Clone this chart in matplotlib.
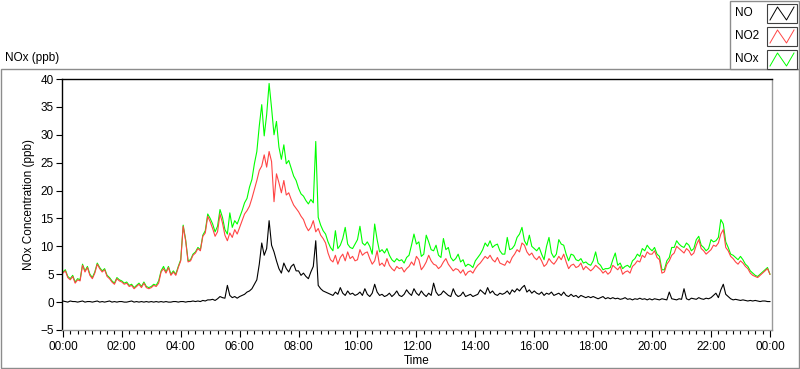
import matplotlib
matplotlib.use("Agg")
import matplotlib.pyplot as plt
from matplotlib.patches import Rectangle
from matplotlib.ticker import FuncFormatter, MultipleLocator
import numpy as np

# 5-minute readings, one row per hour (00:00 ... 23:55) plus the 24:00 value
no2_ppb = [
    5.2, 5.6, 4.4, 4.0, 4.6, 3.4, 4.0, 3.8, 6.6, 5.4, 6.2, 4.8,
    4.2, 5.2, 6.8, 6.0, 5.4, 5.8, 4.6, 4.2, 3.6, 3.2, 4.2, 3.8,
    3.6, 3.2, 3.4, 2.8, 3.0, 2.4, 2.8, 3.2, 2.6, 3.4, 2.6, 2.4,
    2.6, 3.0, 2.8, 3.4, 5.4, 6.0, 5.2, 6.2, 4.8, 5.4, 4.8, 6.2,
    7.4, 13.6, 11.0, 7.2, 7.4, 8.4, 8.8, 9.6, 9.2, 11.8, 12.4, 15.4,
    14.4, 13.2, 11.8, 12.6, 15.8, 14.2, 12.0, 11.0, 12.4, 11.6, 13.0, 12.2,
    13.4, 14.6, 15.8, 16.4, 17.2, 18.6, 20.2, 21.8, 23.6, 24.4, 26.4, 24.2,
    27.0, 25.2, 18.0, 23.0, 21.4, 19.6, 21.8, 19.2, 19.6, 18.4, 17.4, 16.8,
    16.2, 15.4, 14.8, 13.6, 12.8, 13.4, 14.6, 12.6, 13.2, 12.0, 11.4, 10.6,
    8.8, 7.6, 7.2, 8.4, 6.8, 8.0, 8.6, 7.4, 9.0, 7.8, 8.2, 7.4,
    7.6, 9.4, 8.4, 8.8, 9.0, 7.8, 6.8, 7.4, 9.2, 6.6, 7.0, 6.4,
    7.8, 6.6, 6.0, 5.6, 6.4, 6.0, 6.2, 5.4, 6.0, 6.4, 7.2, 6.6,
    8.2, 7.6, 5.8, 6.4, 7.2, 8.4, 7.4, 6.8, 6.6, 6.0, 6.4, 7.2,
    7.8, 6.8, 6.2, 5.6, 6.0, 5.8, 5.2, 5.8, 4.8, 5.4, 5.6, 5.2,
    6.0, 6.6, 7.0, 7.6, 8.2, 7.8, 8.4, 7.6, 7.2, 8.0, 7.0, 6.8,
    6.6, 7.4, 7.0, 8.0, 8.6, 9.4, 9.0, 10.6, 10.2, 9.0, 8.4, 8.8,
    8.0, 7.6, 8.2, 7.4, 6.4, 6.8, 7.8, 7.2, 6.8, 7.4, 8.2, 7.6,
    8.6, 7.2, 6.0, 6.6, 6.8, 6.2, 6.4, 7.0, 5.8, 6.4, 6.0, 5.6,
    6.0, 6.6, 6.2, 5.8, 5.2, 5.6, 5.0, 5.4, 6.6, 6.2, 5.8, 6.4,
    5.0, 5.4, 5.6, 5.2, 6.4, 6.8, 7.4, 7.2, 8.4, 8.0, 9.0, 8.6,
    8.6, 9.2, 8.0, 7.6, 5.2, 5.4, 6.8, 7.4, 8.4, 8.8, 10.0, 9.6,
    9.2, 8.8, 9.6, 9.2, 8.4, 8.8, 10.2, 11.2, 9.6, 9.2, 8.6, 9.0,
    9.4, 10.2, 10.0, 10.6, 12.2, 13.0, 9.8, 9.2, 8.2, 7.8, 7.2, 6.8,
    7.4, 7.0, 6.4, 6.0, 5.2, 4.8, 4.6, 4.4, 4.8, 5.2, 5.6, 6.0,
    5.0,
]

nox_ppb = [
    5.4, 5.8, 4.6, 4.2, 4.8, 3.6, 4.2, 4.0, 6.8, 5.6, 6.4, 5.0,
    4.4, 5.4, 7.0, 6.2, 5.6, 6.0, 4.8, 4.4, 3.8, 3.4, 4.4, 4.0,
    3.8, 3.4, 3.6, 3.0, 3.2, 2.6, 3.0, 3.4, 2.8, 3.6, 2.8, 2.6,
    2.8, 3.2, 3.0, 3.8, 5.6, 6.4, 5.4, 6.4, 5.0, 5.6, 5.0, 6.4,
    7.6, 13.8, 11.2, 7.4, 7.6, 8.6, 9.0, 9.8, 9.4, 12.0, 12.8, 15.8,
    15.0, 14.0, 12.6, 13.6, 16.6, 15.2, 13.0, 12.2, 16.0, 13.4, 14.6, 14.0,
    15.2, 16.4, 17.8, 18.6, 20.6, 22.0, 24.8, 27.0, 31.6, 35.4, 29.8, 33.6,
    39.2, 34.8, 30.0, 32.4, 27.8, 25.6, 28.2, 24.8, 25.4, 24.0, 22.6, 21.8,
    20.4, 19.4, 19.0, 18.2, 17.6, 18.4, 17.8, 28.8, 15.2, 13.8, 12.8, 12.2,
    10.8, 9.8, 9.2, 12.8, 9.6, 10.2, 11.4, 13.4, 10.4, 9.8, 9.6, 10.4,
    11.2, 13.6, 10.6, 10.2, 10.8, 10.0, 8.6, 14.0, 11.2, 9.0, 9.4, 8.8,
    9.6, 8.4, 7.6, 7.2, 7.8, 7.4, 7.6, 7.0, 8.0, 8.4, 10.2, 12.2,
    10.4, 10.8, 8.2, 8.6, 12.0, 10.8, 9.4, 9.2, 10.2, 8.4, 8.0, 11.4,
    9.4, 9.8, 8.0, 7.4, 7.8, 8.6, 7.2, 7.6, 6.4, 6.8, 6.6, 6.2,
    7.4, 8.0, 8.6, 9.4, 10.6, 10.0, 11.0, 9.8, 10.2, 10.4, 9.2, 8.6,
    8.6, 11.6, 9.4, 9.6, 10.2, 11.6, 12.2, 13.4, 11.0, 10.2, 12.0, 10.0,
    9.6, 9.2, 9.8, 8.6, 7.6, 10.0, 11.6, 8.8, 8.0, 8.6, 11.2, 10.4,
    10.2, 8.6, 7.4, 8.6, 8.4, 7.6, 7.4, 7.8, 7.0, 7.2, 6.8, 6.6,
    7.4, 9.0, 7.0, 6.6, 5.8, 6.0, 6.0, 6.2, 7.6, 8.8, 6.6, 7.0,
    6.0, 6.4, 6.6, 6.2, 7.4, 7.8, 8.6, 8.2, 9.6, 9.2, 10.2, 9.6,
    9.2, 9.8, 8.6, 8.2, 5.8, 5.8, 7.4, 8.0, 9.8, 9.8, 11.0, 10.4,
    10.0, 9.8, 10.6, 10.2, 9.2, 9.6, 11.2, 11.8, 10.2, 9.8, 9.2, 9.6,
    11.2, 10.8, 11.0, 11.6, 14.8, 14.0, 10.8, 9.8, 8.6, 8.4, 8.0, 7.6,
    8.2, 7.6, 6.8, 6.4, 5.6, 5.2, 4.8, 4.6, 5.0, 5.4, 5.8, 6.2,
    5.0,
]

no_ppb = [
    0.2, 0.1, 0.0, 0.2, 0.1, 0.1, 0.0, 0.1, 0.2, 0.0, 0.1, 0.1,
    0.0, 0.1, 0.2, 0.0, 0.1, 0.0, 0.1, 0.2, 0.0, 0.1, 0.0, 0.1,
    0.1, 0.0, 0.0, 0.1, 0.2, 0.0, 0.1, 0.0, 0.1, 0.0, 0.1, 0.0,
    0.1, 0.0, 0.1, 0.0, 0.1, 0.0, 0.1, 0.0, 0.0, 0.1, 0.1, 0.0,
    0.1, 0.1, 0.0, 0.1, 0.1, 0.2, 0.1, 0.2, 0.1, 0.3, 0.2, 0.4,
    0.4, 0.5, 0.3, 0.6, 1.0, 0.8, 0.7, 3.0, 1.2, 0.8, 1.0, 0.7,
    1.0, 1.2, 1.4, 1.8, 2.0, 2.4, 3.2, 4.0, 6.8, 10.6, 8.4, 9.6,
    14.6, 10.2, 9.0, 7.4, 6.0, 5.2, 7.0, 6.0, 5.4, 6.4, 6.8, 5.6,
    5.6, 4.8, 5.2, 4.6, 4.2, 5.4, 6.4, 11.0, 3.0, 2.4, 2.0, 1.8,
    1.6, 1.4, 1.2, 1.8, 1.4, 2.6, 1.6, 1.2, 2.0, 1.4, 1.6, 1.2,
    1.4, 1.8, 1.2, 2.4, 1.4, 1.0, 1.6, 3.2, 1.8, 1.2, 1.4, 1.0,
    1.2, 1.6, 1.0, 1.4, 2.0, 1.2, 1.0, 1.4, 2.2, 1.6, 1.2, 2.4,
    1.6, 1.2, 2.0, 1.4, 1.0, 1.6, 1.2, 3.4, 1.8, 1.2, 1.4, 2.0,
    1.6, 1.2, 1.0, 2.4, 1.4, 1.0, 1.2, 1.8, 1.0, 1.2, 1.4, 1.0,
    1.2, 1.4, 2.2, 1.8, 1.4, 2.6, 1.6, 2.0, 1.4, 1.2, 1.6, 1.4,
    1.6, 2.0, 1.4, 2.2, 1.8, 2.4, 2.0, 2.6, 3.0, 1.8, 2.2, 1.6,
    2.0, 1.6, 1.4, 1.8, 1.2, 1.6, 1.4, 1.8, 1.2, 1.4, 1.6, 1.2,
    1.8, 1.2, 1.0, 1.4, 1.0, 1.2, 0.8, 1.2, 1.0, 0.8, 1.0, 0.8,
    1.0, 0.8, 0.6, 0.8, 1.0, 0.6, 0.8, 0.6, 0.8, 0.6, 0.7, 0.5,
    0.6, 0.8, 0.5, 0.6, 0.4, 0.6, 0.5, 0.7, 0.5, 0.6, 0.4, 0.6,
    0.4, 0.6, 0.5, 0.4, 0.6, 0.5, 0.4, 1.8, 0.6, 0.5, 0.4, 0.6,
    0.5, 2.4, 0.6, 0.4, 0.7, 0.6, 0.5, 0.8, 0.6, 0.5, 0.7, 0.6,
    0.8, 1.2, 1.6, 0.8, 2.2, 3.2, 1.4, 1.0, 0.6, 0.4, 0.5, 0.4,
    0.3, 0.4, 0.3, 0.2, 0.3, 0.2, 0.3, 0.2, 0.1, 0.2, 0.2, 0.1,
    0.1,
]

series_names = ["NO", "NO2", "NOx"]
series_colors = ["#000000", "#ff4545", "#00ff00"]

hours = np.arange(len(no2_ppb)) * 5 / 60.0

plt.rcParams['font.family'] = ['Liberation Sans', 'DejaVu Sans']
plt.rcParams['font.size'] = 8.5

fig = plt.figure(figsize=(8.0, 3.69), dpi=100)

# background layer in pixel coordinates for frame and legend
bg = fig.add_axes([0, 0, 1, 1], zorder=0)
bg.set_xlim(0, 800)
bg.set_ylim(369, 0)
bg.axis('off')
bg.add_patch(Rectangle((1, 69), 797.5, 298.5, fill=False, ec='#8c8c8c', lw=1))
bg.add_patch(Rectangle((730, 0.5), 68.5, 68.5, fc='white', ec='#8c8c8c', lw=1))
bg.text(5, 58, "NOx (ppb)", ha='left', va='center', fontsize=8.5)

for i, (name, col) in enumerate(zip(series_names, series_colors)):
    yc = 13 + i * 23
    bg.text(735, yc, name, ha='left', va='center', fontsize=8.5)
    bg.add_patch(Rectangle((767, yc - 9), 30, 19, fc='white', ec='#404040', lw=0.8))
    bg.plot([770, 777.5, 786.5, 794], [yc + 7, yc - 6, yc + 7, yc - 6], color=col, lw=0.7)

ax = fig.add_axes([62 / 800, 39 / 369, 710 / 800, 251 / 369], zorder=1)
ax.plot(hours, nox_ppb, color=series_colors[2], lw=0.8)
ax.plot(hours, no2_ppb, color=series_colors[1], lw=0.8)
ax.plot(hours, no_ppb, color=series_colors[0], lw=0.8)

ax.set_xlim(-0.03, 24.07)
ax.set_ylim(-5, 40)
ax.yaxis.set_major_locator(MultipleLocator(5))
ax.xaxis.set_major_locator(MultipleLocator(2))
ax.xaxis.set_minor_locator(MultipleLocator(0.25))
ax.xaxis.set_major_formatter(FuncFormatter(lambda v, p: "%02d:00" % (int(round(v)) % 24)))
ax.tick_params(axis='both', direction='out', labelsize=8.5, width=0.8, colors='black')
ax.tick_params(axis='x', which='major', length=5, pad=3)
ax.tick_params(axis='x', which='minor', length=3, width=0.8)
ax.tick_params(axis='y', length=4, pad=2)

ax.spines['left'].set_color('black')
ax.spines['top'].set_color('black')
ax.spines['right'].set_color('#9a9a9a')
ax.spines['bottom'].set_color('#9a9a9a')
for s in ax.spines.values():
    s.set_linewidth(1)

ax.set_xlabel('Time', fontsize=8.5, labelpad=1)
ax.set_ylabel('NOx Concentration (ppb)', fontsize=8.5, labelpad=4)

plt.savefig('out.png', dpi=100)
